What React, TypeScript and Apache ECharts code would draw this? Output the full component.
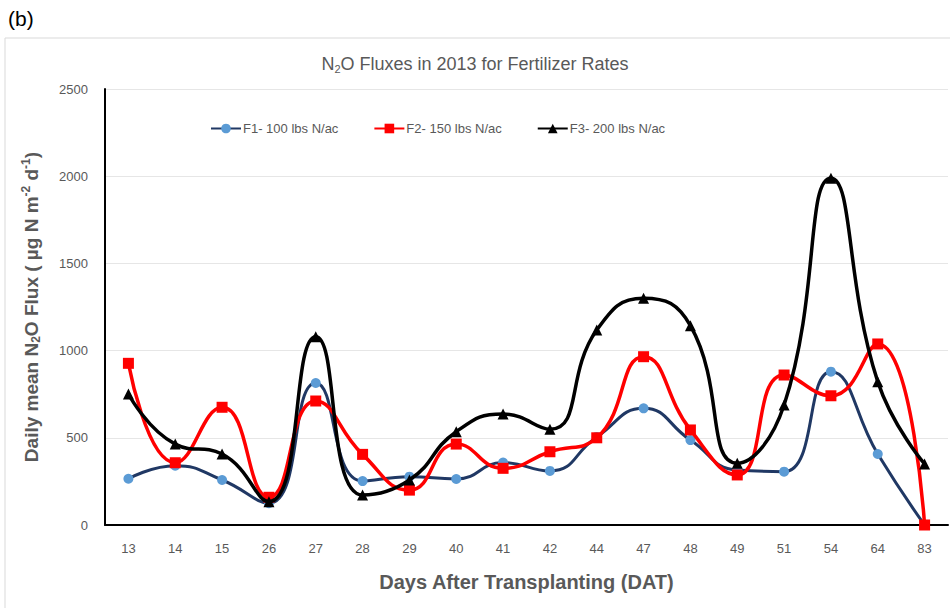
import React, { useEffect, useRef } from "react";
import * as echarts from "echarts";

const categories = ["13", "14", "15", "26", "27", "28", "29", "40", "41", "42", "44", "47", "48", "49", "51", "54", "64", "83"];
const f1Values = [265, 340, 258, 125, 814, 252, 277, 264, 358, 310, 505, 669, 487, 315, 306, 879, 407, 0];
const f2Values = [927, 357, 675, 159, 711, 405, 200, 464, 325, 420, 500, 965, 545, 287, 860, 741, 1038, 0];
const f3Values = [751, 464, 407, 134, 1080, 172, 258, 535, 636, 549, 1118, 1300, 1143, 354, 688, 1988, 822, 350];
const seriesNames = ["F1- 100 lbs N/ac", "F2- 150 lbs N/ac", "F3- 200 lbs N/ac"];

const FONT = "'Liberation Sans', Arial, sans-serif";
const GRAY = "#595959";

export default function App() {
  const ref = useRef<HTMLDivElement>(null);
  useEffect(() => {
    if (!ref.current) return;
    const chart = echarts.init(ref.current, undefined, { renderer: "svg" });
    chart.setOption({
      animation: false,
      backgroundColor: "#ffffff",
      textStyle: { fontFamily: FONT },
      graphic: [
        {
          type: "rect",
          shape: { x: 5, y: 38, width: 950, height: 580 },
          style: { fill: "none", stroke: "#d9d9d9", lineWidth: 1 },
          silent: true,
          z: -1,
        },
        {
          type: "text",
          left: 8,
          top: 8,
          style: { text: "(b)", fontSize: 21, fill: "#000", fontFamily: FONT },
        },
      ],
      title: {
        text: "N{sub|2}O Fluxes in 2013 for Fertilizer Rates",
        left: "center",
        top: 49,
        textStyle: {
          fontSize: 18,
          fontWeight: "normal",
          color: GRAY,
          fontFamily: FONT,
          rich: {
            sub: { fontSize: 11, color: GRAY, verticalAlign: "bottom", padding: [9, 0, 0, 0], fontFamily: FONT },
          },
        },
      },
      legend: {
        top: 117,
        left: 205,
        itemGap: 35,
        itemWidth: 30,
        itemHeight: 12,
        textStyle: { fontSize: 13, color: GRAY, fontFamily: FONT, padding: [0, 0, 0, -3] },
        data: seriesNames,
      },
      grid: { left: 105, right: 2, top: 89, bottom: 83 },
      xAxis: {
        type: "category",
        data: categories,
        boundaryGap: true,
        axisLine: { show: true, lineStyle: { color: "#000", width: 2 } },
        axisTick: { show: false },
        axisLabel: { color: GRAY, fontSize: 13, margin: 17, fontFamily: FONT },
        name: "Days After Transplanting (DAT)",
        nameLocation: "middle",
        nameGap: 47,
        nameTextStyle: { fontSize: 20, color: GRAY, fontWeight: "bold", fontFamily: FONT },
      },
      yAxis: {
        type: "value",
        min: 0,
        max: 2500,
        interval: 500,
        axisLine: { show: true, lineStyle: { color: "#000", width: 2 } },
        axisTick: { show: false },
        splitLine: { lineStyle: { color: "#e6e6e6", width: 1 } },
        axisLabel: { color: GRAY, fontSize: 13, margin: 17, fontFamily: FONT, formatter: (v: number) => String(v) },
        name: "Daily mean N{sub|2}O Flux ( µg N m{sup|-2} d{sup|-1})",
        nameLocation: "middle",
        nameRotate: 90,
        nameGap: 63,
        nameTextStyle: {
          fontSize: 19,
          color: GRAY,
          fontWeight: "bold",
          fontFamily: FONT,
          rich: {
            sub: { fontSize: 12, color: GRAY, fontWeight: "bold", verticalAlign: "bottom", padding: [10, 0, 0, 0], fontFamily: FONT },
            sup: { fontSize: 12, color: GRAY, fontWeight: "bold", verticalAlign: "top", padding: [0, 0, 8, 0], fontFamily: FONT },
          },
        },
      },
      series: [
        {
          name: seriesNames[0],
          type: "line",
          data: f1Values,
          smooth: 0.5,
          symbol: "circle",
          symbolSize: 10,
          lineStyle: { color: "#203864", width: 3 },
          itemStyle: { color: "#5b9bd5" },
          z: 2,
        },
        {
          name: seriesNames[1],
          type: "line",
          data: f2Values,
          smooth: 0.5,
          symbol: "rect",
          symbolSize: 11,
          lineStyle: { color: "#ff0000", width: 3.5 },
          itemStyle: { color: "#ff0000" },
          z: 3,
        },
        {
          name: seriesNames[2],
          type: "line",
          data: f3Values,
          smooth: 0.5,
          symbol: "triangle",
          symbolSize: 11,
          lineStyle: { color: "#000000", width: 3.5 },
          itemStyle: { color: "#000000" },
          z: 4,
        },
      ],
    });
    return () => chart.dispose();
  }, []);
  return <div ref={ref} style={{ position: "fixed", left: 0, top: 0, width: 950, height: 608 }} />;
}
